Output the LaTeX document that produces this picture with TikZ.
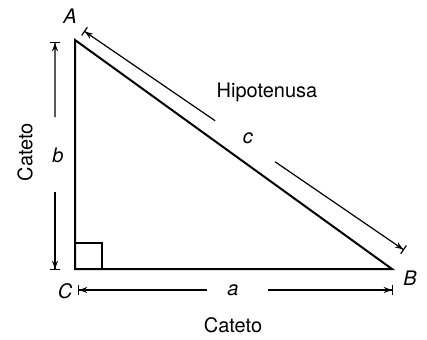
\documentclass[tikz,border=0pt]{standalone}
\usepackage{fontspec}
\setmainfont{TeX Gyre Heros}
\usetikzlibrary{arrows.meta,calc}

\begin{document}
\begin{tikzpicture}[x=0.5pt, y=-0.5pt, font=\fontsize{10}{12}\selectfont,
    lado/.style={line width=1pt, line join=miter},
    cota/.style={line width=0.6pt},
    ini/.style={cota, {Bar[width=5pt]Stealth[length=4pt,width=3pt]}-},
    fin/.style={cota, -{Stealth[length=4pt,width=3pt]Bar[width=5pt]}},
    rotulo/.style={inner sep=1pt}]
  \useasboundingbox (0,0) rectangle (427,339);

  % ---- Triangle
  \coordinate (C) at (75,269);
  \coordinate (A) at (75,40);
  \coordinate (B) at (392,269);
  \draw[lado] (A) -- (B) -- (C) -- cycle;
  \coordinate (sq) at (102,243);
  \draw[line width=0.6pt] (sq) rectangle (C);
  \node[rotulo] (lA) at (70,16) {\textit{A}};
  \node[rotulo] (lB) at (410,278) {\textit{B}};
  \node[rotulo] (lC) at (65,291) {\textit{C}};

  % ---- Cateto b
  \coordinate (b1) at (55,42);
  \coordinate (b2) at (55,270);
  \draw[ini] (b1) -- ($(b1)!0.33!(b2)$);
  \draw[fin] ($(b1)!0.66!(b2)$) -- (b2);
  \node[rotulo] (lb) at (58,155) {\textit{b}};
  \node[rotulo, rotate=90] (cat1) at (25,152) {Cateto};

  % ---- Cateto a
  \coordinate (a1) at (78,290);
  \coordinate (a2) at (393,290);
  \draw[ini] (a1) -- ($(a1)!0.41!(a2)$);
  \draw[fin] ($(a1)!0.603!(a2)$) -- (a2);
  \node[rotulo] (la) at (233,290) {\textit{a}};
  \node[rotulo] (cat2) at (233,325) {Cateto};

  % ---- Hipotenusa c
  \coordinate (c1) at (84,31);
  \coordinate (c2) at (404,250);
  \draw[ini] (c1) -- ($(c1)!0.41!(c2)$);
  \draw[fin] ($(c1)!0.597!(c2)$) -- (c2);
  \node[rotulo] (lc) at (248,138) {\textit{c}};
  \node[rotulo] (hip) at (267,92) {Hipotenusa};
\end{tikzpicture}
\end{document}
